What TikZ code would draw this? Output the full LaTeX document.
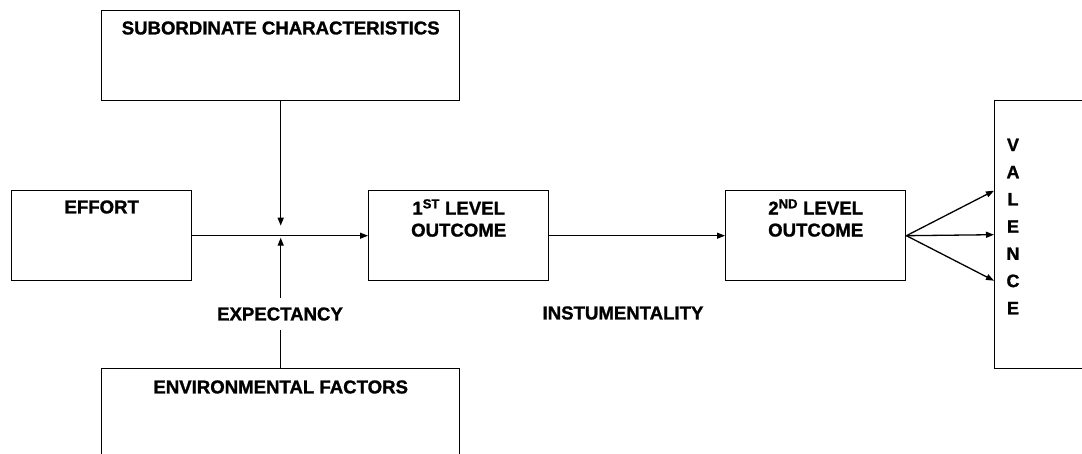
\documentclass[tikz,border=0pt]{standalone}
\usepackage{fontspec}
\setmainfont{Liberation Sans}[BoldFeatures={FakeBold=1.2}]
\usetikzlibrary{arrows.meta,calc}
\begin{document}
\begin{tikzpicture}[x=1pt,y=-1pt,
  box/.style={draw=black, line width=1.4pt, rectangle, inner sep=0pt, anchor=north west},
  lbl/.style={font=\fontsize{18.6}{22}\selectfont\bfseries, inner sep=0pt, align=center},
  conn/.style={line width=1.3pt},
  arr/.style={conn, -{Triangle[length=8pt,width=6pt]}},
]
\clip (0,0) rectangle (1082,454);
\fill[white] (0,0) rectangle (1082,454);

% boxes
\node[box, minimum width=358pt, minimum height=90pt] (sub) at (101,10) {};
\node[box, minimum width=180pt, minimum height=90pt] (effort) at (11,190) {};
\node[box, minimum width=180pt, minimum height=90pt] (first) at (368,190) {};
\node[box, minimum width=180pt, minimum height=90pt] (second) at (725,190) {};
\node[box, minimum width=358pt, minimum height=120pt] (env) at (101,368) {};
\node[box, minimum width=130pt, minimum height=268pt] (val) at (994,100) {};

% box texts
\node[lbl] (subtxt) at ($(sub.north)+(0,18)$) {SUBORDINATE CHARACTERISTICS};
\node[lbl] (efftxt) at ($(effort.north)+(0,17)$) {EFFORT};
\node[lbl] (firsttxt) at ($(first.north)+(0,28)$) {1\textsuperscript{ST} LEVEL\\OUTCOME};
\node[lbl] (secondtxt) at ($(second.north)+(0,28)$) {2\textsuperscript{ND} LEVEL\\OUTCOME};
\node[lbl] (envtxt) at ($(env.north)+(0,19)$) {ENVIRONMENTAL FACTORS};
\node[lbl, font=\fontsize{18}{27.2}\selectfont\bfseries] (valtxt) at (1013,226.5)
  {V\\A\\L\\E\\N\\C\\E};

% connectors
\coordinate (cross) at (sub.south |- effort.east);
\draw[arr] (effort.east) -- (first.west);
\draw[arr] (sub.south) -- ($(cross)+(0,-10)$);
\draw[arr] (env.north) -- ($(cross)+(0,2)$);
\draw[arr] (first.east) -- (second.west);
\draw[arr] (second.east) -- ($(val.west)+(0,-44)$);
\draw[arr] (second.east) -- (val.west);
\draw[arr] (second.east) -- ($(val.west)+(0,46)$);

% connector labels
\node[lbl, fill=white, inner xsep=3pt, inner ysep=9pt] (expect) at (280,314) {EXPECTANCY};
\node[lbl] (instr) at (623,313) {INSTUMENTALITY};
\end{tikzpicture}
\end{document}
